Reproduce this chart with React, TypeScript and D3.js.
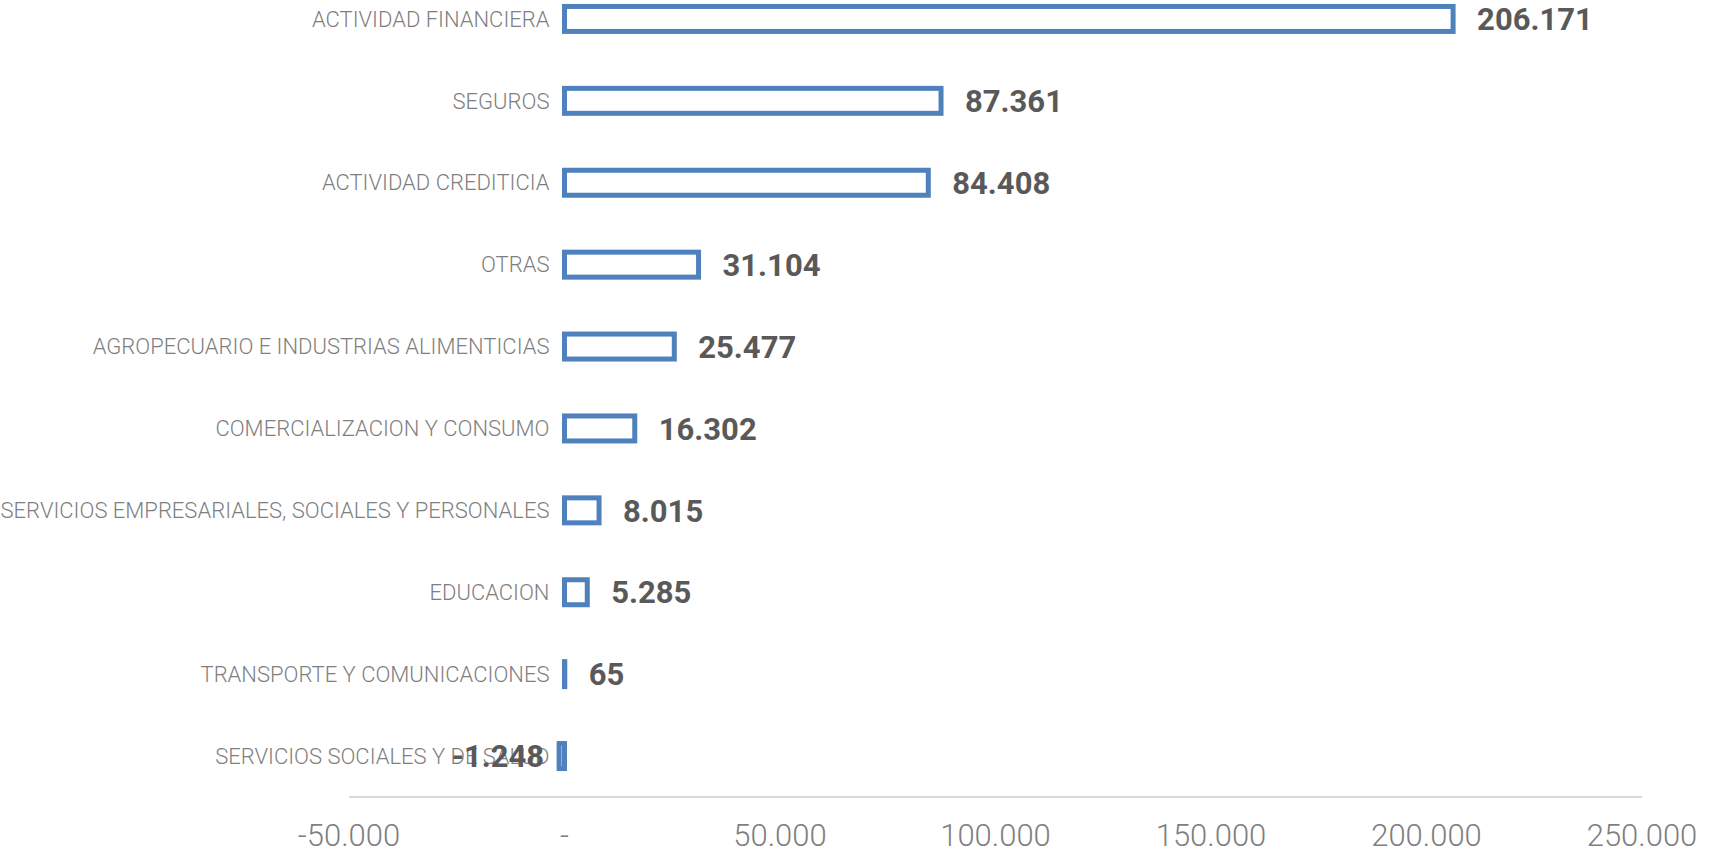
import React from 'react';
import * as d3 from 'd3';

const categories = [
  'ACTIVIDAD FINANCIERA',
  'SEGUROS',
  'ACTIVIDAD CREDITICIA',
  'OTRAS',
  'AGROPECUARIO E INDUSTRIAS ALIMENTICIAS',
  'COMERCIALIZACION Y CONSUMO',
  'SERVICIOS EMPRESARIALES, SOCIALES Y PERSONALES',
  'EDUCACION',
  'TRANSPORTE Y COMUNICACIONES',
  'SERVICIOS SOCIALES Y DE SALUD',
];
const values = [206171, 87361, 84408, 31104, 25477, 16302, 8015, 5285, 65, -1248];
const xTicks = [-50000, 0, 50000, 100000, 150000, 200000, 250000];

const width = 1715;
const height = 852;

// Excel-style number format: "." as thousands separator, plain hyphen minus
const locale = d3.formatLocale({
  decimal: ',',
  thousands: '.',
  grouping: [3],
  currency: ['', ''],
  minus: '-',
});
const fmt = locale.format(',d');
const tickFmt = (v: number) => (v === 0 ? '-' : fmt(v));

const blue = '#4f81bd';
const grey = '#7f7f7f';
const font = 'Roboto, "Open Sans", sans-serif';

export default function App() {
  const x = d3.scaleLinear().domain([-50000, 250000]).range([349, 1642]);
  const y = d3
    .scaleBand<string>()
    .domain(categories)
    .range([-22, 797])
    .paddingInner(0.695)
    .paddingOuter(0.3475);

  const zero = x(0);
  const bw = y.bandwidth();
  const axisY = 797;

  return (
    <svg
      width={width}
      height={height}
      style={{ position: 'absolute', left: 0, top: 0, display: 'block', background: '#fff' }}
    >
      {/* category axis baseline at the bottom */}
      <line x1={x(-50000)} x2={x(250000)} y1={axisY} y2={axisY} stroke="#d9d9d9" strokeWidth={2} />

      {xTicks.map(t => (
        <text
          key={t}
          x={x(t)}
          y={846}
          textAnchor="middle"
          fontFamily={font}
          fontWeight={300}
          fontSize={31}
          fill={grey}
        >
          {tickFmt(t)}
        </text>
      ))}

      {categories.map((c, i) => {
        const v = values[i];
        const y0 = y(c)!;
        const cy = y0 + bw / 2;
        const x0 = Math.min(zero, x(v));
        const x1 = Math.max(zero, x(v));
        return (
          <g key={c}>
            <text
              x={zero - 15}
              y={cy}
              dy="0.35em"
              textAnchor="end"
              fontFamily={font}
              fontWeight={300}
              fontSize={22}
              fill={grey}
            >
              {c}
            </text>
            <rect
              x={x0}
              y={y0}
              width={x1 - x0}
              height={bw}
              fill="#fff"
              stroke={blue}
              strokeWidth={5}
            />
            <text
              x={v >= 0 ? x1 + 24 : x0 - 15}
              y={cy}
              dy="0.36em"
              textAnchor={v >= 0 ? 'start' : 'end'}
              fontFamily={font}
              fontWeight={700}
              fontSize={31}
              fill="#595959"
            >
              {fmt(v)}
            </text>
          </g>
        );
      })}
    </svg>
  );
}
